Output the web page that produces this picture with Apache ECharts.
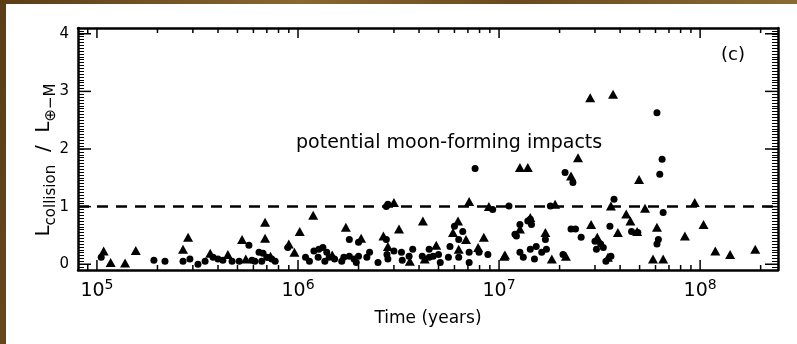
<!DOCTYPE html>
<html>
<head>
<meta charset="utf-8">
<script src="https://cdn.jsdelivr.net/npm/echarts@6.0.0/dist/echarts.min.js"></script>
<style>
  html, body { margin: 0; padding: 0; }
  body {
    width: 797px; height: 344px; position: relative; overflow: hidden;
    background: linear-gradient(100deg, #5b3d17 0%, #8a6630 35%, #6a4a1d 60%, #93713a 100%);
  }
  #paper { position: absolute; left: 6px; top: 4px; width: 791px; height: 340px; background: #fff; }
  #chart { position: absolute; left: 0; top: 0; width: 797px; height: 344px; }
</style>
</head>
<body>
<div id="paper"></div>
<div id="chart"></div>
<script>
// impacts: [time in years, L_collision / L_earth-moon]
const triangleImpacts = [
  [1.08e5, 0.23], [1.17e5, 0.03], [1.38e5, 0.02], [1.56e5, 0.24],
  [2.68e5, 0.26], [2.84e5, 0.47], [3.66e5, 0.19], [4.48e5, 0.17], [5.27e5, 0.43], [5.5e5, 0.09],
  [6.86e5, 0.73], [6.86e5, 0.45], [7.3e5, 0.14], [9.0e5, 0.35], [9.6e5, 0.21], [1.02e6, 0.57],
  [1.19e6, 0.85], [1.48e6, 0.16], [1.73e6, 0.64], [2.06e6, 0.45], [2.66e6, 0.49], [2.8e6, 0.31],
  [3.6e6, 0.05], [3.18e6, 0.61], [4.18e6, 0.75], [4.27e6, 0.09], [3.0e6, 1.07],
  [7.1e6, 1.09], [8.9e6, 1.0], [6.25e6, 0.75], [5.9e6, 0.55], [6.85e6, 0.43], [4.87e6, 0.33],
  [6.3e6, 0.26], [7.87e6, 0.29], [8.4e6, 0.47], [1.06e7, 0.14],
  [1.27e7, 1.68], [1.39e7, 1.68], [2.28e7, 1.53], [2.47e7, 1.85], [1.9e7, 1.04], [2.87e7, 0.69],
  [1.27e7, 0.61], [1.7e7, 0.55], [1.83e7, 0.09], [2.15e7, 0.14], [1.43e7, 0.81], [1.07e7, 0.16],
  [3.08e7, 0.47], [3.48e7, 0.12],
  [2.84e7, 2.89], [3.69e7, 2.95], [4.97e7, 1.47], [3.6e7, 1.01], [5.32e7, 0.97], [4.29e7, 0.87],
  [4.5e7, 0.75], [4.86e7, 0.57], [3.9e7, 0.55], [6.1e7, 0.64], [8.4e7, 0.49], [5.83e7, 0.09],
  [6.55e7, 0.09], [9.4e7, 1.07], [1.04e8, 0.69], [1.19e8, 0.23], [1.41e8, 0.17], [1.88e8, 0.26]
];

const circleImpacts = [
  [1.05e5, 0.12], [1.92e5, 0.07], [2.18e5, 0.05],
  [2.68e5, 0.05], [2.9e5, 0.09], [3.18e5, 0.0], [3.45e5, 0.05], [3.78e5, 0.12], [4.0e5, 0.09],
  [4.23e5, 0.07], [4.7e5, 0.05], [5.7e5, 0.33], [5.9e5, 0.07], [5.1e5, 0.05],
  [6.4e5, 0.21], [6.7e5, 0.19], [7.0e5, 0.12], [7.4e5, 0.09], [7.7e5, 0.05], [6.1e5, 0.05],
  [6.6e5, 0.05], [8.9e5, 0.29], [1.09e6, 0.12], [1.14e6, 0.05], [1.2e6, 0.23], [1.27e6, 0.26],
  [1.33e6, 0.29], [1.39e6, 0.21], [1.43e6, 0.12], [1.26e6, 0.12], [1.52e6, 0.09], [1.36e6, 0.05],
  [1.8e6, 0.43], [2.0e6, 0.38], [1.69e6, 0.12], [1.8e6, 0.14], [1.9e6, 0.09], [2.0e6, 0.14],
  [2.2e6, 0.12], [2.27e6, 0.21], [1.65e6, 0.05], [1.95e6, 0.03], [2.5e6, 0.03], [2.75e6, 0.43],
  [2.77e6, 0.17], [2.8e6, 0.09], [3.0e6, 0.23], [3.27e6, 0.21], [3.3e6, 0.07], [3.57e6, 0.14],
  [3.72e6, 0.26], [4.15e6, 0.14], [2.8e6, 1.04], [2.75e6, 1.0],
  [7.6e6, 1.66], [9.3e6, 0.95], [1.12e7, 1.01], [6.0e6, 0.66], [6.6e6, 0.57], [6.3e6, 0.43],
  [5.7e6, 0.31], [4.49e6, 0.26], [4.7e6, 0.14], [7.1e6, 0.21], [7.95e6, 0.21], [8.8e6, 0.17],
  [5.6e6, 0.12], [6.3e6, 0.12], [7.1e6, 0.03], [4.5e6, 0.12], [5.0e6, 0.17], [5.1e6, 0.03],
  [2.13e7, 1.59], [2.33e7, 1.42], [1.8e7, 1.01], [2.28e7, 0.61], [2.4e7, 0.61], [2.56e7, 0.47],
  [1.27e7, 0.69], [1.43e7, 0.78], [1.45e7, 0.69], [1.22e7, 0.49], [1.7e7, 0.43], [1.72e7, 0.26],
  [1.63e7, 0.21], [1.53e7, 0.31], [1.43e7, 0.26], [1.27e7, 0.21], [1.32e7, 0.12], [1.5e7, 0.09],
  [2.08e7, 0.17], [3.0e7, 0.40], [3.05e7, 0.26], [1.39e7, 0.75], [1.2e7, 0.52], [3.2e7, 0.35],
  [3.6e7, 0.14], [3.4e7, 0.05],
  [6.1e7, 2.63], [6.47e7, 1.82], [6.3e7, 1.56], [3.73e7, 1.13], [6.55e7, 0.90], [3.56e7, 0.66],
  [4.56e7, 0.57], [4.9e7, 0.55], [6.2e7, 0.43], [6.1e7, 0.35], [3.3e7, 0.29]
];

const xTicks = [1e5, 1e6, 1e7, 1e8];
const yTicks = [0, 1, 2, 3, 4];
const moonLimit = 1;

const xMin = 8.05e4, xMax = 2.44e8;
const yMin = -0.1, yMax = 4.1;

// minor ticks on the time axis: 2..9 x 10^n
const xMinor = [];
for (let d = 4; d <= 8; d++) {
  for (let k = 2; k <= 9; k++) {
    const v = k * Math.pow(10, d);
    if (v > xMin && v < xMax) xMinor.push(v);
  }
}

const font = 'DejaVu Sans';
const black = '#000';

// IDL-style inward ticks on both opposite sides of the frame
const tickSeries = (name, values, dim, len, width) => ({
  name: name,
  type: 'custom',
  silent: true,
  clip: false,
  z: 5,
  xAxisIndex: 0,
  yAxisIndex: 0,
  encode: { x: 0, y: 1 },
  data: values.map(v => (dim === 'x' ? [v, 0] : [1e6, v])),
  renderItem: (params, api) => {
    const cs = params.coordSys;
    const p = api.coord([api.value(0), api.value(1)]);
    const style = { stroke: black, lineWidth: width, fill: null };
    if (dim === 'x') {
      return {
        type: 'group',
        children: [
          { type: 'line', shape: { x1: p[0], y1: cs.y + cs.height, x2: p[0], y2: cs.y + cs.height - len }, style: style },
          { type: 'line', shape: { x1: p[0], y1: cs.y, x2: p[0], y2: cs.y + len }, style: style }
        ]
      };
    }
    return {
      type: 'group',
      children: [
        { type: 'line', shape: { x1: cs.x, y1: p[1], x2: cs.x + len, y2: p[1] }, style: style },
        { type: 'line', shape: { x1: cs.x + cs.width, y1: p[1], x2: cs.x + cs.width - len, y2: p[1] }, style: style }
      ]
    };
  }
});

const xAxisBase = (pos, showLabel) => ({
  type: 'log',
  position: pos,
  min: xMin,
  max: xMax,
  axisLine: { show: true, onZero: false, lineStyle: { color: black, width: 2.5 } },
  axisTick: { show: false },
  axisLabel: showLabel ? {
    customValues: xTicks,
    margin: 8,
    color: black,
    fontFamily: font,
    fontSize: 19,
    lineHeight: 26,
    formatter: v => '10{sup|' + Math.round(Math.log10(v)) + '}',
    rich: { sup: { fontSize: 14, fontFamily: font, color: black, verticalAlign: 'top', lineHeight: 14 } }
  } : { show: false },
  splitLine: { show: false }
});

const yMajor = (pos, showLabel) => ({
  type: 'value',
  position: pos,
  min: yMin,
  max: yMax,
  axisLine: { show: true, onZero: false, lineStyle: { color: black, width: 2.5 } },
  axisTick: { show: false },
  axisLabel: showLabel ? {
    customValues: yTicks, margin: 9, color: black, fontFamily: font, fontSize: 15
  } : { show: false },
  splitLine: { show: false }
});
// minor comb every 0.05, counted from min
const yMinorAxis = pos => ({
  type: 'value',
  position: pos,
  min: yMin,
  max: yMax,
  interval: 0.05,
  axisLine: { show: false, onZero: false },
  axisTick: { show: true, inside: true, length: 6, lineStyle: { color: black, width: 1 } },
  axisLabel: { show: false },
  splitLine: { show: false }
});

const chart = echarts.init(document.getElementById('chart'));

const xMain = xAxisBase('bottom', true);
xMain.name = 'Time (years)';
xMain.nameLocation = 'middle';
xMain.nameGap = 40;
xMain.nameTextStyle = { color: black, fontFamily: font, fontSize: 17 };

const yMain = yMajor('left', true);
yMain.name = 'L{sub|collision}  /  L{sub|⊕−M}';
yMain.nameLocation = 'middle';
yMain.nameGap = 19;
yMain.nameMoveOverlap = false;
yMain.nameRotate = 90;
yMain.nameTextStyle = {
  color: black, fontFamily: font, fontSize: 20, lineHeight: 30,
  padding: [0, 22, 0, 0],
  rich: { sub: { fontSize: 15, fontFamily: font, color: black, verticalAlign: 'bottom', lineHeight: 14 } }
};

const option = {
  animation: false,
  backgroundColor: 'transparent',
  grid: { left: 78, right: 19, top: 28, bottom: 74, containLabel: false },
  xAxis: [
    xMain,
    xAxisBase('top', false)
  ],
  yAxis: [
    yMain,
    yMinorAxis('left'),
    yMajor('right', false),
    yMinorAxis('right')
  ],
  graphic: [
    {
      type: 'text', left: 296, top: 134, silent: true,
      style: { text: 'potential moon-forming impacts', fill: black, font: '19px "DejaVu Sans"' }
    },
    {
      type: 'text', left: 721, top: 46, silent: true,
      style: { text: '(c)', fill: black, font: '18px "DejaVu Sans"' }
    }
  ],
  series: [
    {
      name: 'triangles',
      type: 'scatter',
      symbol: 'triangle',
      symbolSize: [10, 9],
      itemStyle: { color: black, opacity: 1 },
      data: triangleImpacts,
      markLine: {
        silent: true,
        symbol: 'none',
        label: { show: false },
        lineStyle: { color: black, width: 2.5, type: [11, 8], opacity: 1 },
        data: [{ yAxis: moonLimit }]
      }
    },
    {
      name: 'circles',
      type: 'scatter',
      symbol: 'circle',
      symbolSize: 7,
      itemStyle: { color: black, opacity: 1 },
      data: circleImpacts
    },
    tickSeries('x major ticks', xTicks, 'x', 10, 1.5),
    tickSeries('x minor ticks', xMinor, 'x', 5, 1.5),
    tickSeries('y major ticks', yTicks, 'y', 13, 1.5)
  ]
};

chart.setOption(option);
</script>
</body>
</html>
